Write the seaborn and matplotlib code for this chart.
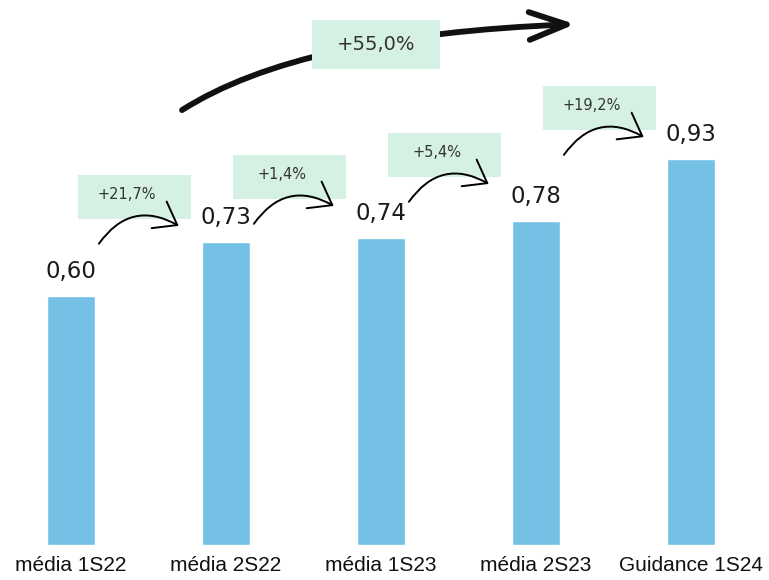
import numpy as np
import pandas as pd
import matplotlib
matplotlib.use("Agg")
import matplotlib.pyplot as plt
from matplotlib.patches import FancyArrowPatch, Rectangle
from matplotlib.path import Path
import seaborn as sns

# dados
categorias = ["média 1S22", "média 2S22", "média 1S23", "média 2S23", "Guidance 1S24"]
valores = [0.60, 0.73, 0.74, 0.78, 0.93]
variacoes = ["+21,7%", "+1,4%", "+5,4%", "+19,2%"]
variacao_total = "+55,0%"

# layout das caixas verdes (altura da base, em unidades do eixo)
caixa_base = [0.786, 0.834, 0.887, 1.0]

cor_barra = "#74c1e5"
cor_caixa = "#d5f1e3"

sns.set_theme(style="white")
plt.rcParams["font.family"] = ["DejaVu Sans"]

df = pd.DataFrame({"cat": categorias, "valor": valores})

fig = plt.figure(figsize=(7.69, 5.80), dpi=100)
ax = fig.add_axes([0, 35 / 580, 1, 545 / 580])
sns.barplot(data=df, x="cat", y="valor", color=cor_barra, width=0.31,
            saturation=1, ax=ax)

ax.set_xlim(-71 / 155, (769 - 71) / 155)
ax.set_ylim(0, 545 / 415)
sns.despine(ax=ax, left=True, bottom=True)
ax.set_yticks([])
ax.set_xlabel("")
ax.set_ylabel("")
ax.tick_params(axis="x", length=0, pad=8)
for lbl in ax.get_xticklabels():
    lbl.set_fontfamily("Liberation Sans")
    lbl.set_fontsize(15)
    lbl.set_color("#111111")

# rótulos dos valores
for i, v in enumerate(valores):
    ax.text(i, v + 0.043, f"{v:.2f}".replace(".", ","), ha="center", va="baseline",
            fontsize=16.5, color="#1a1a1a")

# caixas e setas entre barras
larg, alt = 0.73, 0.106
for i, (txt, yb) in enumerate(zip(variacoes, caixa_base)):
    xl = i + 0.045
    ax.add_patch(Rectangle((xl, yb), larg, alt, facecolor=cor_caixa, edgecolor="none", zorder=3))
    ax.text(xl + larg / 2 - 0.05, yb + alt / 2 + 0.005, txt, ha="center", va="center",
            fontsize=10.5, color="#333333", zorder=4)
    seta = FancyArrowPatch((xl + 0.135, yb - 0.06), (xl + 0.65, yb - 0.017),
                           connectionstyle="arc3,rad=-0.45",
                           arrowstyle="->,head_length=0.75,head_width=0.55",
                           mutation_scale=20, lw=1.4, color="black",
                           shrinkA=0, shrinkB=0, zorder=4)
    ax.add_patch(seta)

# seta grande
verts = [(0.716, 1.048), (1.477, 1.229), (3.252, 1.255)]
caminho = Path(verts, [Path.MOVETO, Path.CURVE3, Path.CURVE3])
seta_grande = FancyArrowPatch(path=caminho,
                              arrowstyle="->,head_length=1.35,head_width=0.5",
                              mutation_scale=20, lw=4.2, color="#111111",
                              capstyle="round", joinstyle="round", zorder=2)
ax.add_patch(seta_grande)
ax.add_patch(Rectangle((1.555, 1.147), 0.826, 0.118, facecolor=cor_caixa,
                       edgecolor="none", zorder=3))
ax.text(1.968, 1.205, variacao_total, ha="center", va="center", fontsize=14,
        color="#333333", zorder=4)

fig.savefig("out.png", dpi=100)
